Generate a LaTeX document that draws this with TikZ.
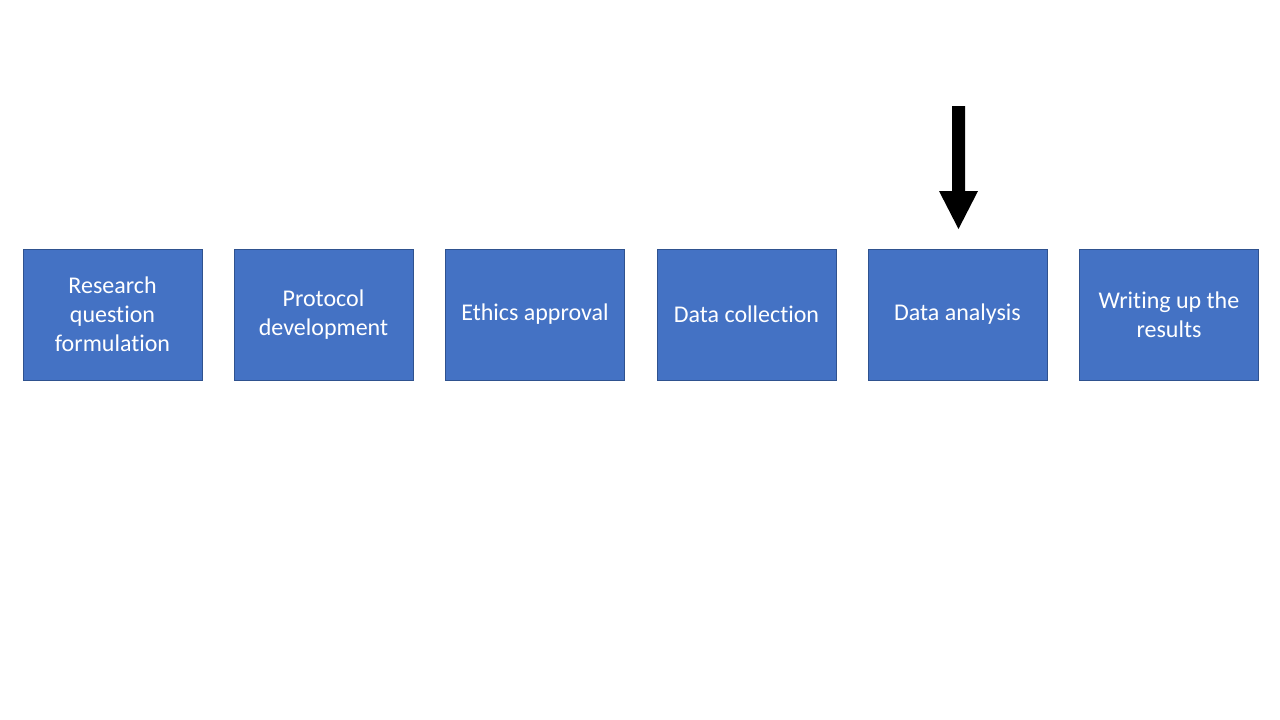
\documentclass[tikz,border=0pt]{standalone}
\usepackage{fontspec}
\setmainfont[Ligatures=NoCommon]{Carlito}
\definecolor{boxfill}{HTML}{4472C4}
\definecolor{boxline}{HTML}{2F528F}
\begin{document}
\begin{tikzpicture}[x=1pt,y=-1pt,
  stagebox/.style={draw=boxline, fill=boxfill, line width=0.9pt, minimum width=179pt, minimum height=131pt,
    inner sep=0pt, align=center, text=white, font=\fontsize{24}{29}\selectfont, anchor=center}]
\useasboundingbox[fill=white] (0,0) rectangle (1280,720);
\node[stagebox] (s1) at (112.5,314.5) {Research\\question\\formulation};
\node[stagebox] (s2) at (323.5,314.5) {Protocol\\development};
\node[stagebox] (s3) at (535,314.5) {Ethics approval};
\node[stagebox] (s4) at (746.5,314.5) {Data collection};
\node[stagebox] (s5) at (957.5,314.5) {Data analysis};
\node[stagebox] (s6) at (1169,314.5) {Writing up the\\results};
\coordinate (tip) at (958.5,229);
\fill[black] (tip) -- ++(-19.5,-38) -- ++(13,0) -- ++(0,-85) -- ++(13,0) -- ++(0,85) -- ++(13,0) -- cycle;
\end{tikzpicture}
\end{document}
